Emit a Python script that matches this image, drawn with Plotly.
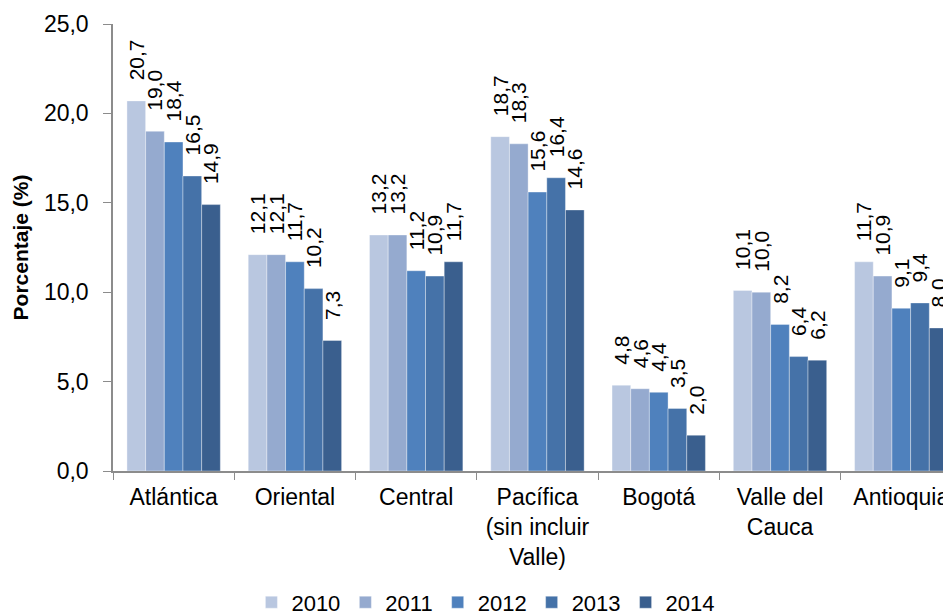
import plotly.graph_objects as go

regiones = ["Atlántica", "Oriental", "Central", "Pacífica<br>(sin incluir<br>Valle)",
            "Bogotá", "Valle del<br>Cauca", "Antioquia"]
anios = ["2010", "2011", "2012", "2013", "2014"]
v2010 = [20.7, 12.1, 13.2, 18.7, 4.8, 10.1, 11.7]
v2011 = [19.0, 12.1, 13.2, 18.3, 4.6, 10.0, 10.9]
v2012 = [18.4, 11.7, 11.2, 15.6, 4.4, 8.2, 9.1]
v2013 = [16.5, 10.2, 10.9, 16.4, 3.5, 6.4, 9.4]
v2014 = [14.9, 7.3, 11.7, 14.6, 2.0, 6.2, 8.0]
valores = [v2010, v2011, v2012, v2013, v2014]
colores = ["#B9C7E0", "#95AACF", "#4F81BD", "#4572A8", "#3A5F8E"]

fig = go.Figure()
for anio, vals, col in zip(anios, valores, colores):
    fig.add_trace(go.Bar(
        x=regiones, y=vals, name=anio,
        marker=dict(color=col, line=dict(color="rgba(255,255,255,0.6)", width=0.6)),
        # espacios no separables para dejar hueco entre barra y etiqueta
        texttemplate="\u00a0\u00a0\u00a0%{y:.1f}", textposition="outside", textangle=-90,
        constraintext="none", cliponaxis=False,
        textfont=dict(family="Liberation Sans, Arial", size=21, color="black"),
    ))

# la pagina tiene 8px de margen en el body, se compensa aqui
fig.update_layout(
    width=943, height=608,
    barmode="group", bargap=0.23, bargroupgap=0,
    separators=",.",
    plot_bgcolor="white", paper_bgcolor="white",
    margin=dict(l=105, r=0, t=16, b=145, autoexpand=False),
    font=dict(family="Liberation Sans, Arial", size=23, color="black"),
    yaxis=dict(
        range=[0, 25], dtick=5, tickformat=".1f",
        showgrid=False, showline=True, linecolor="#8c8c8c", linewidth=1.5,
        ticks="outside", ticklen=8, tickcolor="#8c8c8c", ticklabelstandoff=10,
        title=dict(text="<b>Porcentaje (%)</b>", font=dict(size=21), standoff=10),
        zeroline=False, automargin=False,
    ),
    xaxis=dict(
        range=[-0.5, 6.41],
        showline=True, linecolor="#8c8c8c", linewidth=1.5,
        ticks="outside", ticklen=7, tickcolor="#8c8c8c", tickson="boundaries",
        ticklabelstandoff=5,
        showgrid=False, automargin=False,
    ),
    legend=dict(
        orientation="h", x=0.445, xanchor="center", y=-0.247, yanchor="top",
        font=dict(size=22), itemwidth=30, traceorder="normal",
    ),
)

fig.write_html("out.html")
